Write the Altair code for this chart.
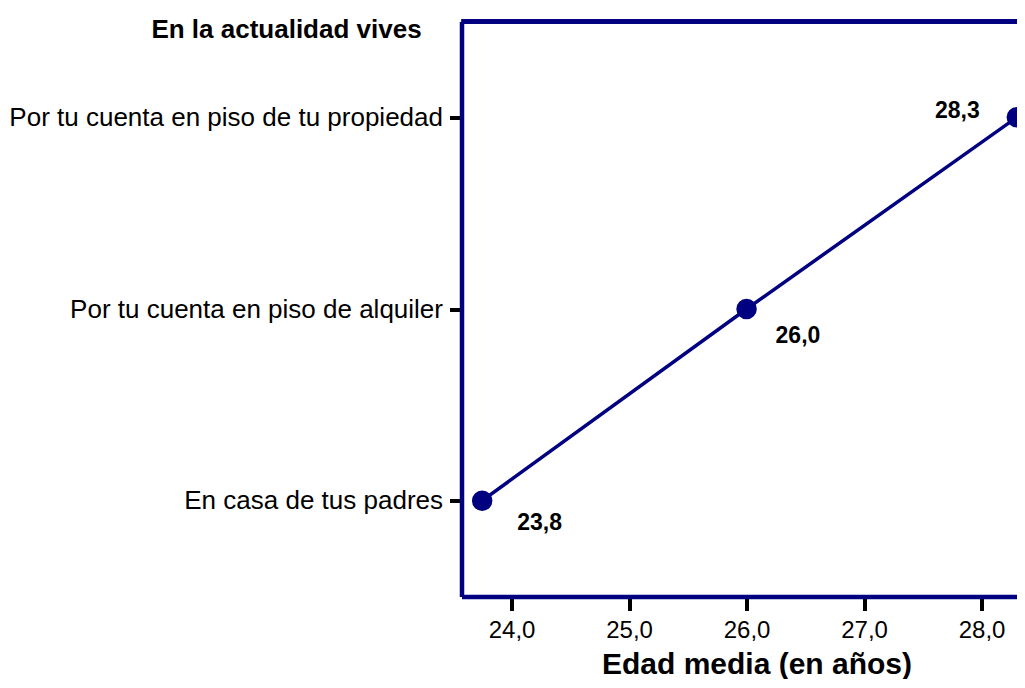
import altair as alt
import pandas as pd

categories = [
    "Por tu cuenta en piso de tu propiedad",
    "Por tu cuenta en piso de alquiler",
    "En casa de tus padres",
]
edad_media = [28.3, 26.0, 23.75]
etiquetas = ["28,3", "26,0", "23,8"]
x_ticks = [24, 25, 26, 27, 28]

df = pd.DataFrame({"cat": categories, "edad": edad_media, "lab": etiquetas})

NAVY = "#000080"
FONT = "Liberation Sans"
PAD_L = 453.5
PAD_T = 13.5
W = 555.5
H = 575
PAD_B = 82.5

x_enc = alt.X(
    "edad:Q",
    scale=alt.Scale(domain=[23.574, 23.574 + W / 117.5], nice=False, zero=False),
    axis=alt.Axis(
        values=x_ticks,
        labelExpr="replace(format(datum.value, '.1f'), '.', ',')",
        grid=False,
        domainColor=NAVY,
        domainWidth=4.5,
        tickColor="black",
        tickWidth=4,
        tickSize=14,
        labelFontSize=24,
        labelFont=FONT,
        labelColor="black",
        labelPadding=8,
        title="Edad media (en años)",
        titleFont=FONT,
        titleFontSize=30,
        titleFontWeight="bold",
        titleColor="black",
        titleX=295,
        titleY=77,
        titleAlign="center",
        titleBaseline="alphabetic",
    ),
)
y_enc = alt.Y(
    "cat:N",
    sort=categories,
    scale=alt.Scale(type="point", padding=0.5),
    axis=alt.Axis(
        grid=False,
        domainColor=NAVY,
        domainWidth=4.5,
        tickColor="black",
        tickWidth=4,
        tickSize=12,
        labelFontSize=26,
        labelFont=FONT,
        labelColor="black",
        labelPadding=7,
        labelLimit=600,
        title="En la actualidad vives",
        titleFont=FONT,
        titleFontSize=26,
        titleFontWeight="bold",
        titleColor="black",
        titleAngle=0,
        titleX=-175.5,
        titleY=15.5,
        titleAlign="center",
        titleBaseline="alphabetic",
    ),
)

base = alt.Chart(df)

top_rule = base.mark_rule(color=NAVY, strokeWidth=4.5).encode(
    x=alt.value(0), x2=alt.value(W), y=alt.value(0)
)
line = base.mark_line(color=NAVY, strokeWidth=3.5).encode(x=x_enc, y=y_enc)
points = base.mark_circle(color=NAVY, size=420, opacity=1).encode(x=x_enc, y=y_enc)

label_styles = [
    (etiquetas[0], "right", -37, 1),
    (etiquetas[1], "left", 29, 34),
    (etiquetas[2], "left", 35, 29),
]
texts = []
for lab, align, dx, dy in label_styles:
    texts.append(
        base.transform_filter(alt.datum.lab == lab)
        .mark_text(
            align=align, baseline="alphabetic", dx=dx, dy=dy,
            font=FONT, fontSize=23, fontWeight="bold", color="black",
        )
        .encode(x="edad:Q", y=alt.Y("cat:N", sort=categories), text="lab:N")
    )

chart = (
    alt.layer(line, points, *texts, top_rule)
    .properties(
        width=W,
        height=H,
        autosize=alt.AutoSizeParams(type="none"),
        padding={"left": PAD_L, "top": PAD_T, "right": 0, "bottom": PAD_B},
    )
    .configure_view(stroke=None)
    .configure(background="white")
)

chart.save("out.html", embed_options={"renderer": "svg", "actions": False})
